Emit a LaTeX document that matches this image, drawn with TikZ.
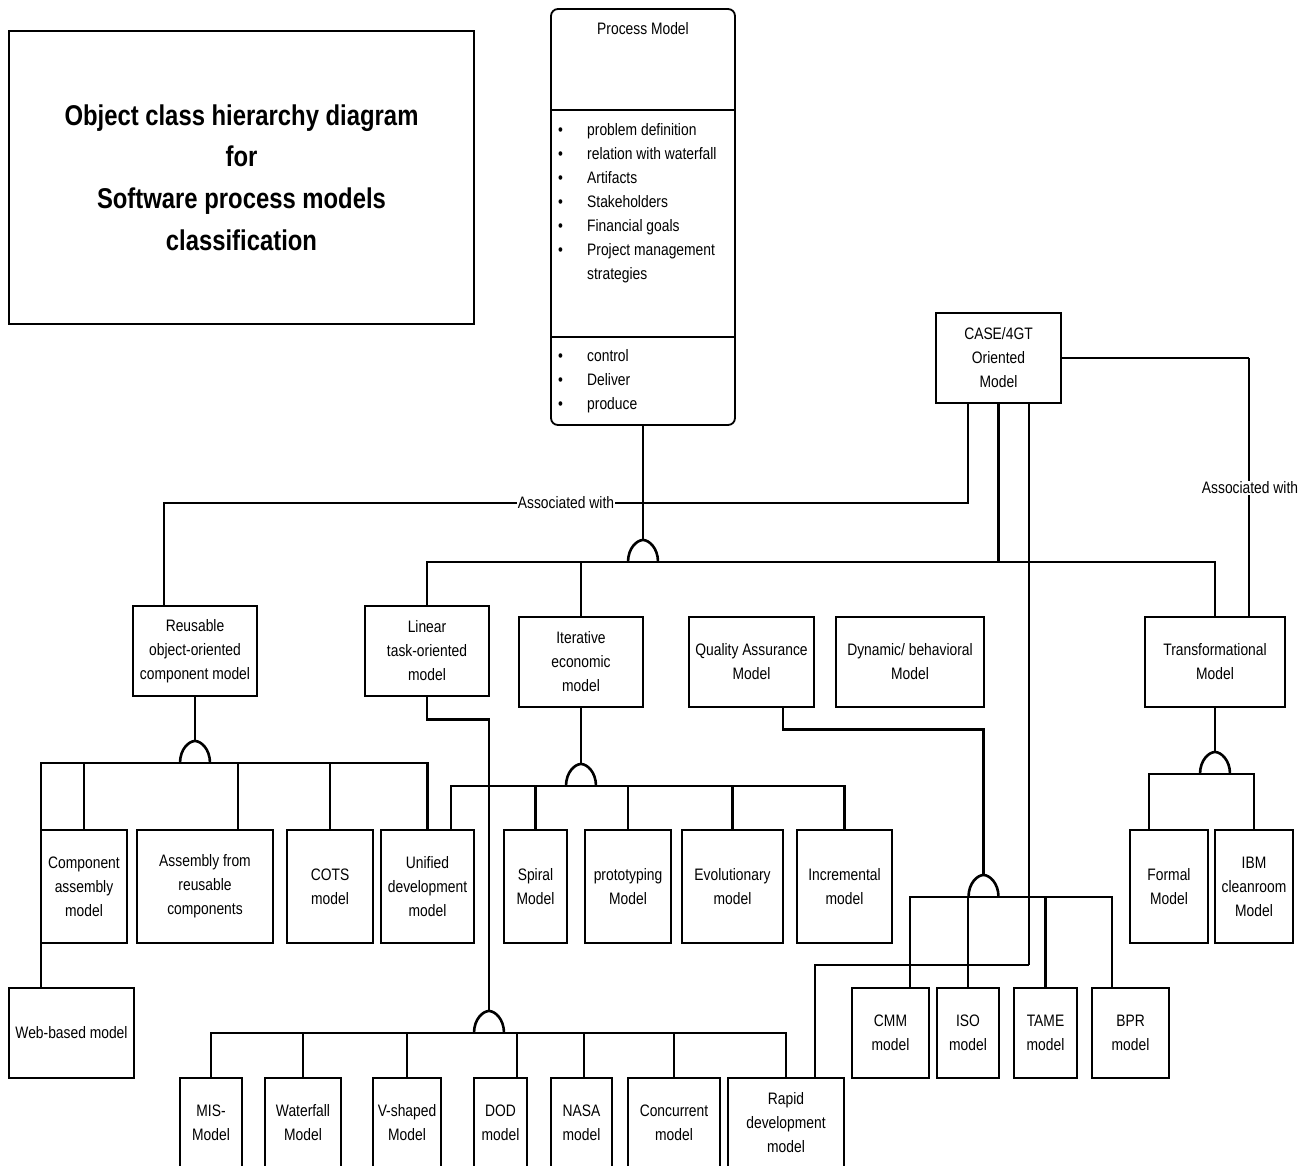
\documentclass[tikz,border=0pt]{standalone}
\usepackage{fontspec}
\setmainfont{Liberation Sans}[FakeStretch=0.834]
\newcommand\dfont{\fontsize{16.6pt}{24pt}\selectfont}
\newcommand\tfont{\fontsize{28.6pt}{41.7pt}\selectfont\bfseries}
\begin{document}
\begin{tikzpicture}[x=1pt,y=-1pt,
  box/.style={draw,line width=2.6pt,align=center,inner sep=1pt,font=\dfont},
  conn/.style={line width=2.6pt},
  thinconn/.style={line width=1.7pt},
  lbl/.style={fill=white,inner sep=1pt,font=\dfont},
  txt/.style={inner sep=0pt,font=\dfont,anchor=base west},
  dome/.pic={\draw[line width=2.6pt] (-15,0) .. controls (-15,-14) and (-6,-22) .. (0,-22) .. controls (6,-22) and (15,-14) .. (15,0);}
]
\clip (0,0) rectangle (1313,1165);
\fill[white] (0,0) rectangle (1313,1165);

% title
\node[draw,line width=2.2pt,minimum width=465pt,minimum height=293pt,align=center,font=\tfont] (title) at (241.5,177.5)
  {Object class hierarchy diagram\\for\\Software process models\\classification};

% process model
\node[draw,line width=1.8pt,rounded corners=7pt,minimum width=184pt,minimum height=416pt] (pm) at (643,217) {};
\coordinate (sepA) at (0,110);
\coordinate (sepB) at (0,337);
\draw[line width=2pt] (pm.west |- sepA) -- (pm.east |- sepA);
\draw[line width=2pt] (pm.west |- sepB) -- (pm.east |- sepB);
\node[inner sep=0pt,font=\dfont,anchor=base] (pmtitle) at (643,34) {Process Model};
\node[txt] (pa1) at (558,135) {\makebox[29pt][l]{•}problem definition};
\node[txt] (pa2) at (558,159) {\makebox[29pt][l]{•}relation with waterfall};
\node[txt] (pa3) at (558,183) {\makebox[29pt][l]{•}Artifacts};
\node[txt] (pa4) at (558,207) {\makebox[29pt][l]{•}Stakeholders};
\node[txt] (pa5) at (558,231) {\makebox[29pt][l]{•}Financial goals};
\node[txt] (pa6) at (558,255) {\makebox[29pt][l]{•}Project management};
\node[txt] (pa7) at (558,279) {\hspace*{29pt}strategies};
\node[txt] (po1) at (558,361) {\makebox[29pt][l]{•}control};
\node[txt] (po2) at (558,385) {\makebox[29pt][l]{•}Deliver};
\node[txt] (po3) at (558,409) {\makebox[29pt][l]{•}produce};

% level 1
\node[box,minimum width=125pt,minimum height=90pt] (case) at (998.5,358) {CASE/4GT\\Oriented\\Model};
\node[box,minimum width=124pt,minimum height=90pt] (reuse) at (195,651) {Reusable\\object-oriented\\component model};
\node[box,minimum width=124pt,minimum height=90pt] (linear) at (427,651) {Linear\\task-oriented\\model};
\node[box,minimum width=124pt,minimum height=90pt] (iter) at (581,662) {Iterative\\economic\\model};
\node[box,minimum width=125pt,minimum height=90pt] (qa) at (751.5,662) {Quality Assurance\\Model};
\node[box,minimum width=148pt,minimum height=90pt] (dyn) at (910,662) {Dynamic/ behavioral\\Model};
\node[box,minimum width=140pt,minimum height=90pt] (trans) at (1215,662) {Transformational\\Model};

% level 2
\node[box,minimum width=86pt,minimum height=113pt] (comp) at (84,886.5) {Component\\assembly\\model};
\node[box,minimum width=136pt,minimum height=113pt] (asm) at (205,886.5) {Assembly from\\reusable\\components};
\node[box,minimum width=86pt,minimum height=113pt] (cots) at (330,886.5) {COTS\\model};
\node[box,minimum width=93pt,minimum height=113pt] (unif) at (427.5,886.5) {Unified\\development\\model};
\node[box,minimum width=63pt,minimum height=113pt] (spiral) at (535.5,886.5) {Spiral\\Model};
\node[box,minimum width=86pt,minimum height=113pt] (proto) at (628,886.5) {prototyping\\Model};
\node[box,minimum width=101pt,minimum height=113pt] (evo) at (732.5,886.5) {Evolutionary\\model};
\node[box,minimum width=95pt,minimum height=113pt] (incr) at (844.5,886.5) {Incremental\\model};
\node[box,minimum width=78pt,minimum height=113pt] (formal) at (1169,886.5) {Formal\\Model};
\node[box,minimum width=78pt,minimum height=113pt] (ibm) at (1254,886.5) {IBM\\cleanroom\\Model};

% level 3
\node[box,minimum width=125pt,minimum height=90pt] (web) at (71.5,1033) {Web-based model};
\node[box,minimum width=77pt,minimum height=90pt] (cmm) at (890.5,1033) {CMM\\model};
\node[box,minimum width=62pt,minimum height=90pt] (iso) at (968,1033) {ISO\\model};
\node[box,minimum width=63pt,minimum height=90pt] (tame) at (1045.5,1033) {TAME\\model};
\node[box,minimum width=77pt,minimum height=90pt] (bpr) at (1130.5,1033) {BPR\\model};

% bottom row
\node[box,minimum width=62pt,minimum height=89pt] (mis) at (211,1122.5) {MIS-\\Model};
\node[box,minimum width=76pt,minimum height=89pt] (water) at (303,1122.5) {Waterfall\\Model};
\node[box,minimum width=68pt,minimum height=89pt] (vshape) at (407,1122.5) {V-shaped\\Model};
\node[box,minimum width=53pt,minimum height=89pt] (dod) at (500.5,1122.5) {DOD\\model};
\node[box,minimum width=61pt,minimum height=89pt] (nasa) at (581.5,1122.5) {NASA\\model};
\node[box,minimum width=92pt,minimum height=89pt] (conc) at (674,1122.5) {Concurrent\\model};
\node[box,minimum width=116pt,minimum height=89pt] (rapid) at (786,1122.5) {Rapid\\development\\model};

% process model -> level 1
\coordinate (d1) at (643,562);
\coordinate (d1t) at (643,540);
\draw[conn] (pm.south) -- (d1t);
\pic at (d1) {dome};
\draw[conn] (linear.north) |- (d1) -| (trans.north);
\draw[conn] (iter.north) -- (iter.north |- d1);
\draw[conn] (case.south) -- (case.south |- d1);

% associated with (left)
\coordinate (s1) at (968,503);
\draw[conn] (case.south -| s1) -- (s1) -| ([xshift=-31pt]reuse.north);
\node[lbl] (assoc1) at (566,503) {Associated with};

% associated with (right)
\coordinate (s2) at (1249,358);
\draw[conn] (case.east) -- (s2);
\draw[thinconn] (s2) -- ([xshift=34pt]trans.north);
\node[lbl] (assoc2) at (1250,488) {Associated with};

% CASE -> rapid
\coordinate (s3) at (815,965);
\coordinate (s4) at (1029,965);
\draw[thinconn] (case.south -| s4) -- (s4);
\draw[conn] (s4) -- (s3) -- ([xshift=29pt]rapid.north);

% reusable children
\coordinate (d2) at (195,763);
\coordinate (d2t) at (195,741);
\draw[conn] (reuse.south) -- (d2t);
\pic at (d2) {dome};
\draw[conn] ([xshift=-30.5pt]web.north) |- (d2) -| (unif.north);
\draw[conn] (comp.north) -- (comp.north |- d2);
\draw[conn] ([xshift=33pt]asm.north) -- ([xshift=33pt]asm.north |- d2);
\draw[conn] (cots.north) -- (cots.north |- d2);

% iterative children
\coordinate (d4) at (581,786);
\coordinate (d4t) at (581,764);
\draw[conn] (iter.south) -- (d4t);
\pic at (d4) {dome};
\draw[conn] ([xshift=23.5pt]unif.north) |- (d4) -| (incr.north);
\draw[conn] (spiral.north) -- (spiral.north |- d4);
\draw[conn] (proto.north) -- (proto.north |- d4);
\draw[conn] (evo.north) -- (evo.north |- d4);

% linear children
\coordinate (d3) at (489,1033);
\coordinate (d3t) at (489,1011);
\draw[conn] (linear.south) -- ++(0,22) -| (d3t);
\pic at (d3) {dome};
\draw[conn] (mis.north) |- (d3) -| (rapid.north);
\draw[conn] (water.north) -- (water.north |- d3);
\draw[conn] (vshape.north) -- (vshape.north |- d3);
\draw[conn] ([xshift=16.5pt]dod.north) -- ([xshift=16.5pt]dod.north |- d3);
\draw[conn] ([xshift=2.5pt]nasa.north) -- ([xshift=2.5pt]nasa.north |- d3);
\draw[conn] (conc.north) -- (conc.north |- d3);

% QA children
\coordinate (d5) at (983.5,897);
\coordinate (d5t) at (983.5,875);
\draw[conn] ([xshift=31.5pt]qa.south) -- ++(0,21) -| (d5t);
\pic at (d5) {dome};
\draw[conn] ([xshift=19.5pt]cmm.north) |- (d5) -| ([xshift=-18.5pt]bpr.north);
\draw[conn] (iso.north) -- (iso.north |- d5);
\draw[conn] (tame.north) -- (tame.north |- d5);

% transformational children
\coordinate (d6) at (1215,774);
\coordinate (d6t) at (1215,752);
\draw[conn] (trans.south) -- (d6t);
\pic at (d6) {dome};
\draw[conn] ([xshift=-20pt]formal.north) |- (d6) -| (ibm.north);
\end{tikzpicture}
\end{document}
